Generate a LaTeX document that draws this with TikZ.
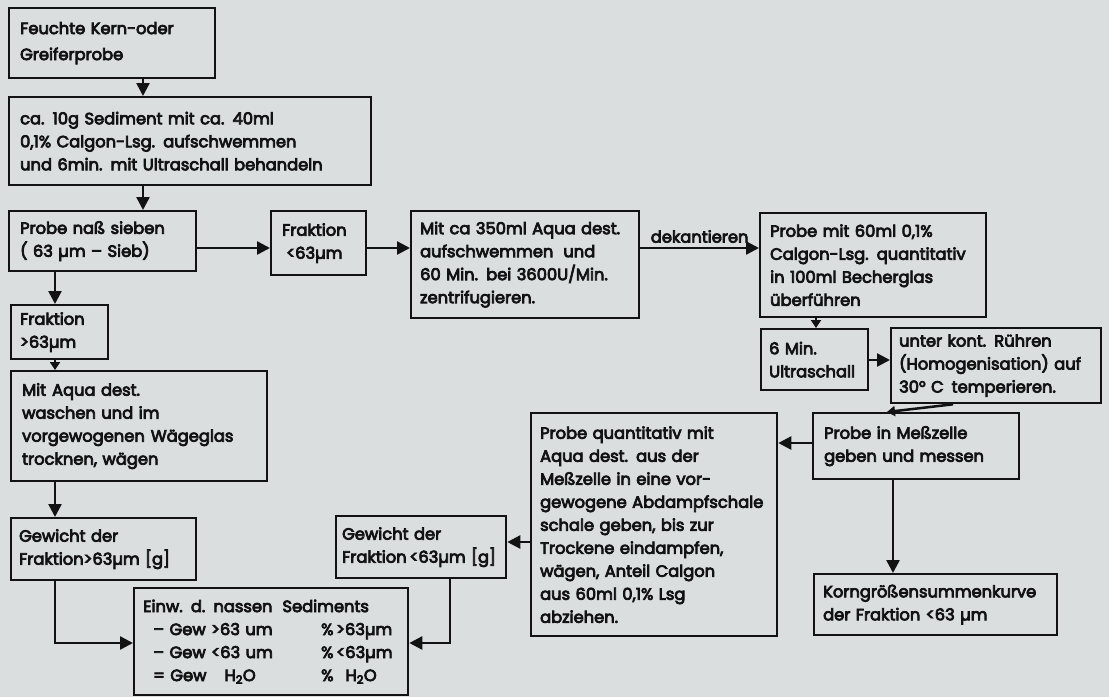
\documentclass[tikz,border=0pt]{standalone}
\usepackage{fontspec}
\setmainfont{Poppins}[WordSpace=1.5]
\usetikzlibrary{arrows.meta,calc}
\definecolor{bg}{RGB}{218,222,223}
\definecolor{ink}{RGB}{18,18,18}
\newcommand\heavytext{\special{pdf:literal direct 2 Tr 0.75 w}}
\begin{document}
\begin{tikzpicture}[x=1pt,y=-1pt,
  box/.style={draw=ink, line width=2.3pt, anchor=north west, align=left,
    inner xsep=11pt, inner ysep=0pt, text=ink,
    font=\fontsize{16.3}{23}\selectfont\heavytext},
  arr/.style={draw=ink, line width=2.5pt, -{Triangle[length=13pt,width=13pt]}},
  sarr/.style={draw=ink, line width=2.5pt, -{Triangle[length=8pt,width=10pt]}},
  lbl/.style={text=ink, font=\fontsize{16.3}{23}\selectfont\heavytext, inner sep=1pt}]
\fill[bg] (0,0) rectangle (1109,697);
\useasboundingbox (0,0) rectangle (1109,697);

% boxes
\node[box, minimum width=206pt, minimum height=70pt, text width=184pt,
  font=\fontsize{16.3}{26}\selectfont\heavytext] (b1) at (8,7)
  {Feuchte Kern-oder\\Greiferprobe};
\node[box, minimum width=362pt, minimum height=88pt, text width=340pt] (b2) at (8,96)
  {ca. 10g Sediment mit ca. 40ml\\0,1\% Calgon-Lsg. aufschwemmen\\und 6min. mit Ultraschall behandeln};
\node[box, minimum width=187pt, minimum height=60pt, text width=165pt] (b3) at (8,210)
  {Probe naß sieben\\( 63 µm – Sieb)};
\node[box, minimum width=95pt, minimum height=64pt, text width=73pt] (b4) at (270,210)
  {Fraktion\\\hspace*{4pt}<63µm};
\node[box, minimum width=228pt, minimum height=107pt, text width=210pt, inner xsep=9pt] (b5) at (410,210)
  {\mbox{Mit ca 350ml Aqua dest.}\\aufschwemmen\hspace{10pt}und\\\mbox{60 Min. bei 3600U/Min.}\\zentrifugieren.};
\node[box, minimum width=226pt, minimum height=104pt, text width=206pt, inner xsep=10pt] (b6) at (759,212)
  {Probe mit 60ml 0,1\%\\\mbox{Calgon-Lsg. quantitativ}\\in 100ml Becherglas\\überführen};
\node[box, minimum width=107pt, minimum height=61pt, text width=91pt, inner xsep=8pt] (b7) at (760,328)
  {6 Min.\\Ultraschall};
\node[box, minimum width=210pt, minimum height=75pt, text width=194pt, inner xsep=8pt] (b8) at (890,327)
  {unter kont. Rühren\\\mbox{(Homogenisation) auf}\\30° C\hspace{8pt}temperieren.};
\node[box, minimum width=206pt, minimum height=66pt, text width=184pt] (b9) at (812,412)
  {Probe in Meßzelle\\geben und messen};
\node[box, minimum width=246pt, minimum height=223pt, text width=228pt, inner xsep=9pt] (b10) at (530,412)
  {Probe quantitativ mit\\Aqua dest. aus der\\Meßzelle in eine vor-\\\mbox{gewogene Abdampfschale}\\schale geben, bis zur\\Trockene eindampfen,\\wägen, Anteil Calgon\\aus 60ml 0,1\% Lsg\\abziehen.};
\node[box, minimum width=243pt, minimum height=61pt, text width=225pt, inner xsep=9pt] (b11) at (813,573)
  {Korngrößensummenkurve\\der Fraktion <63 µm};
\node[box, minimum width=170pt, minimum height=62pt, text width=158pt, inner xsep=6pt] (b12) at (335,515)
  {Gewicht der\\\mbox{Fraktion\,<63µm [g]}};
\node[box, minimum width=274pt, minimum height=107pt, text width=256pt, inner xsep=9pt] (b13) at (133,587)
  {Einw. d. nassen\hspace{10pt}Sediments\\
   \hspace*{10pt}\makebox[168pt][l]{– Gew >63 um}\%\,>63µm\\
   \hspace*{10pt}\makebox[168pt][l]{– Gew <63 um}\%\,<63µm\\
   \hspace*{10pt}\makebox[168pt][l]{= Gew\hspace{18pt}H\textsubscript{2}O}\%\hspace{12pt}H\textsubscript{2}O};
\node[box, minimum width=185pt, minimum height=62pt, text width=169pt, inner xsep=8pt] (b14) at (10,517)
  {Gewicht der\\\mbox{Fraktion>63µm [g]}};
\node[box, minimum width=256pt, minimum height=110pt, text width=234pt] (b15) at (10,370)
  {Mit\hspace{6pt}Aqua dest.\\waschen und im\\\mbox{vorgewogenen\hspace{6pt}Wägeglas}\\trocknen, wägen};
\node[box, minimum width=97pt, minimum height=54pt, text width=79pt, inner xsep=9pt] (b16) at (10,304)
  {Fraktion\\>63µm};

% guide coordinates for connector positions
\coordinate (x143) at (143,0);
\coordinate (x55) at (55,0);
\coordinate (x816) at (816,0);
\coordinate (x953) at (953,0);
\coordinate (x887) at (887,0);
\coordinate (x893) at (893,0);
\coordinate (x450) at (450,0);
\coordinate (y248) at (0,248);
\coordinate (y360) at (0,360);
\coordinate (y443) at (0,443);
\coordinate (y542) at (0,542);
\coordinate (y643) at (0,643);

% connectors
\draw[arr] (b1.south -| x143) -- (b2.north -| x143);
\draw[arr] (b2.south -| x143) -- (b3.north -| x143);
\draw[arr] (b3.east |- y248) -- (b4.west |- y248);
\draw[arr] (b4.east |- y248) -- (b5.west |- y248);
\draw[arr] (b5.east |- y248) -- node[lbl, above=3pt] (dk) {dekantieren} (b6.west |- y248);
\draw[sarr] (b6.south -| x816) -- (b7.north -| x816);
\draw[arr] (b7.east |- y360) -- (b8.west |- y360);
\draw[sarr] (b8.south -| x953) -- (b9.north -| x887);
\draw[arr] (b9.west |- y443) -- (b10.east |- y443);
\draw[arr] (b9.south -| x893) -- (b11.north -| x893);
\draw[arr] (b10.west |- y542) -- (b12.east |- y542);
\draw[arr] (b12.south -| x450) |- (b13.east |- y643);
\draw[arr] (b3.south -| x55) -- (b16.north -| x55);
\draw[sarr] (b16.south -| x55) -- (b15.north -| x55);
\draw[arr] (b15.south -| x55) -- (b14.north -| x55);
\draw[arr] (b14.south -| x55) |- (b13.west |- y643);
\end{tikzpicture}
\end{document}
